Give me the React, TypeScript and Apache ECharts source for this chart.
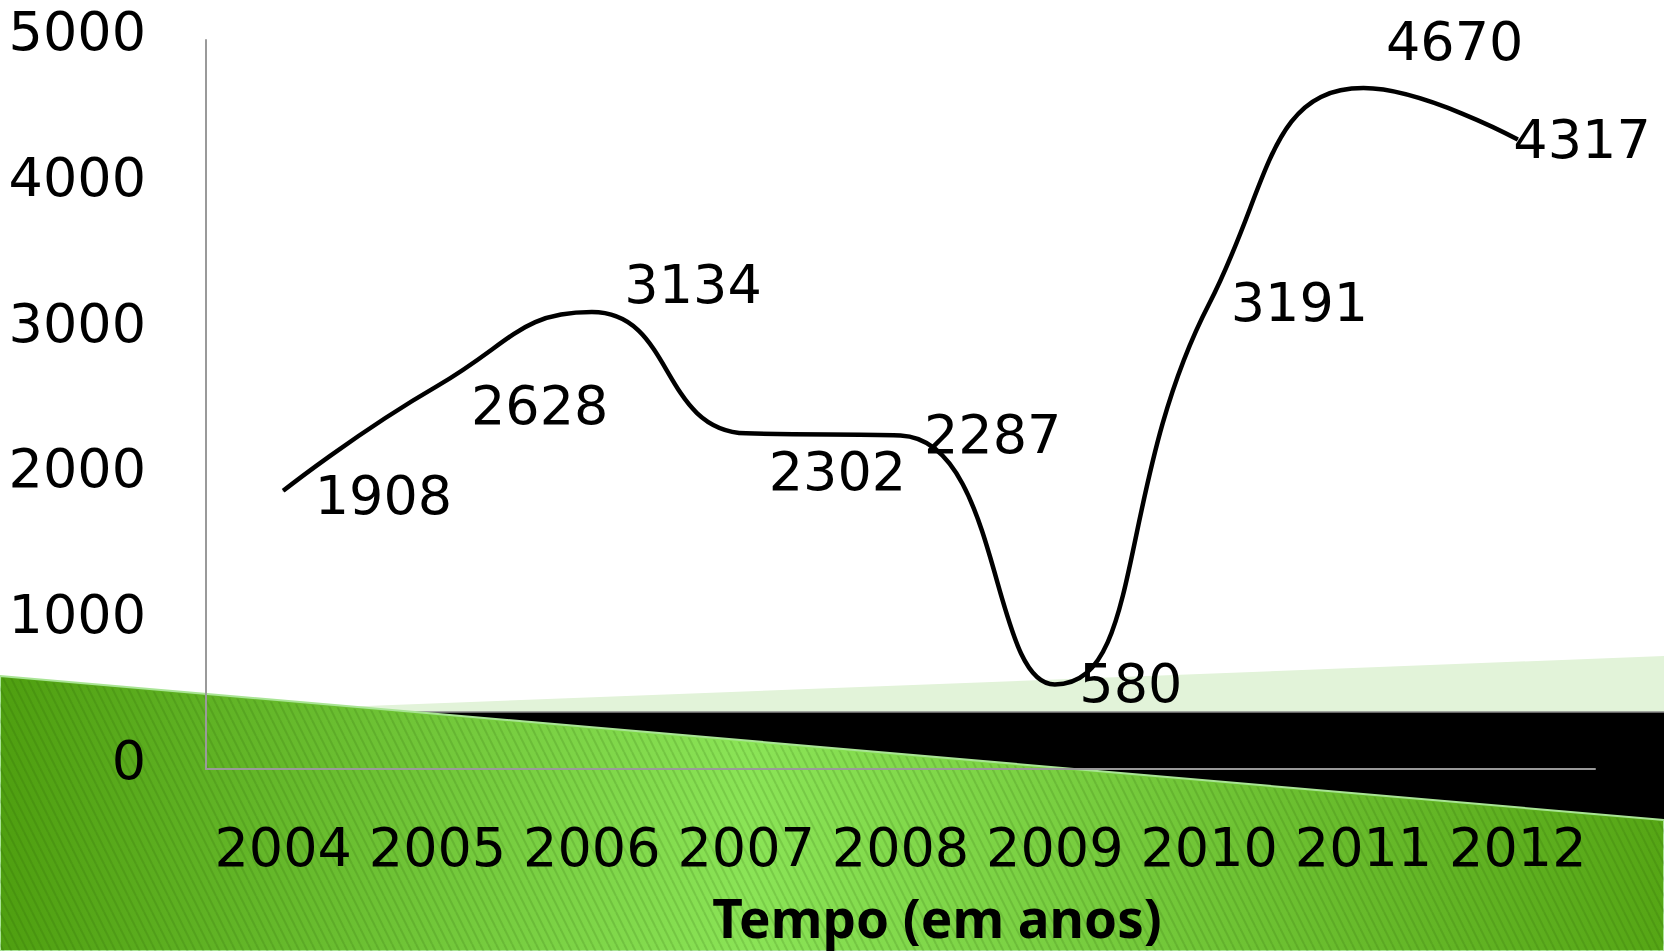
import React, { useEffect, useRef } from "react";
import * as echarts from "echarts";

const years = ["2004", "2005", "2006", "2007", "2008", "2009", "2010", "2011", "2012"];
const values = [1908, 2628, 3134, 2302, 2287, 580, 3191, 4670, 4317];
const yMin = 0;
const yMax = 5000;
const yInterval = 1000;
const axisTitle = "Tempo (em anos)";
// label placement tweaks (pixels) relative to each point
const labelOffsets: number[][] = [
  [31, 5], [33, 20], [32, -28], [22, 38], [23, -1], [24, -1], [21, -1], [22, -47], [-5, 0],
];

const FONT = '"DejaVu Sans", "Noto Sans", sans-serif';
const TITLE_FONT = '"Noto Sans", "Open Sans", sans-serif';

function makeStripes(): string | null {
  try {
    const w = 8;
    const h = 16;
    const c = document.createElement("canvas");
    c.width = w;
    c.height = h;
    const ctx = c.getContext("2d");
    if (!ctx) return null;
    ctx.strokeStyle = "rgba(30,80,0,0.16)";
    ctx.lineWidth = 2;
    for (const dx of [-w, 0, w]) {
      ctx.beginPath();
      ctx.moveTo(dx, 0);
      ctx.lineTo(dx + w, h);
      ctx.stroke();
    }
    return c.toDataURL("image/png");
  } catch (e) {
    return null;
  }
}

export default function App() {
  const ref = useRef<HTMLDivElement>(null);
  useEffect(() => {
    const chart = echarts.init(ref.current!, null, { renderer: "svg" });
    const stripes = makeStripes();
    const greenPts = [[0, 676], [1664, 820], [1664, 951], [0, 951]];
    const graphics: any[] = [
      {
        type: "polygon",
        z: -10,
        shape: { points: [[353, 706.6], [1664, 656], [1664, 830], [353, 830]] },
        style: { fill: "#E2F3D9" },
      },
      {
        type: "polygon",
        z: -9,
        shape: { points: [[415, 712], [1664, 712], [1664, 822], [415, 822]] },
        style: { fill: "#000000" },
      },
      {
        type: "line",
        z: -8,
        shape: { x1: 415, y1: 712, x2: 1664, y2: 712 },
        style: { stroke: "#8a8a8a", lineWidth: 1.5 },
      },
      {
        type: "polygon",
        z: -7,
        shape: { points: greenPts },
        style: {
          fill: {
            type: "linear",
            x: 0, y: 0, x2: 1, y2: 0,
            colorStops: [
              { offset: 0, color: "#4F9F10" },
              { offset: 0.45, color: "#8BE457" },
              { offset: 1, color: "#56A615" },
            ],
          },
          stroke: "#A9E495",
          lineWidth: 2,
        },
      },
    ];
    if (stripes) {
      graphics.push({
        type: "polygon",
        z: -6,
        silent: true,
        shape: { points: [[0, 678], [1664, 822], [1664, 951], [0, 951]] },
        style: { fill: { image: stripes, repeat: "repeat" } },
      });
    }
    graphics.push({
      type: "text",
      z: 10,
      style: {
        text: axisTitle,
        x: 937,
        y: 917,
        textAlign: "center",
        textVerticalAlign: "middle",
        font: `bold 53px ${TITLE_FONT}`,
        fill: "#000000",
      },
    });
    chart.setOption({
      animation: false,
      backgroundColor: "#ffffff",
      grid: { left: 206, right: 69, top: 40, bottom: 182, containLabel: false },
      graphic: graphics,
      xAxis: {
        type: "category",
        data: years,
        boundaryGap: true,
        axisLine: { show: true, lineStyle: { color: "#9a9a9a", width: 2 } },
        axisTick: { show: false },
        axisLabel: {
          margin: 51,
          fontSize: 54,
          fontFamily: FONT,
          color: "#000000",
          interval: 0,
        },
        splitLine: { show: false },
      },
      yAxis: {
        type: "value",
        min: yMin,
        max: yMax,
        interval: yInterval,
        axisLine: { show: true, lineStyle: { color: "#9a9a9a", width: 2 } },
        axisTick: { show: false },
        splitLine: { show: false },
        axisLabel: {
          margin: 60,
          fontSize: 54,
          fontFamily: FONT,
          color: "#000000",
          verticalAlign: "bottom",
          lineHeight: 17,
          formatter: (v: number) => String(v),
        },
      },
      series: [
        {
          type: "line",
          data: values.map((v, i) => ({
            value: v,
            label: { offset: labelOffsets[i] },
          })),
          smooth: 0.5,
          symbol: "circle",
          symbolSize: 1,
          itemStyle: { color: "#000000" },
          lineStyle: { color: "#000000", width: 4.5 },
          label: {
            show: true,
            position: "right",
            distance: 0,
            fontSize: 54,
            fontFamily: FONT,
            color: "#000000",
          },
          z: 5,
        },
      ],
    });
    return () => chart.dispose();
  }, []);
  return (
    <div
      ref={ref}
      style={{ position: "fixed", left: 0, top: 0, width: 1664, height: 951, background: "#fff" }}
    />
  );
}
